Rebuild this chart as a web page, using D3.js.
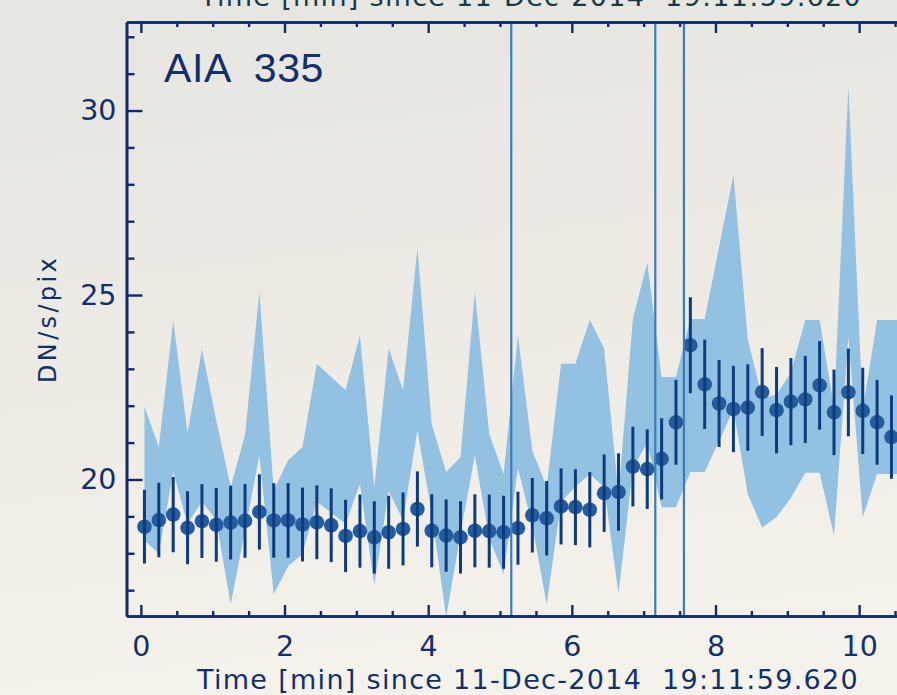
<!DOCTYPE html>
<html><head><meta charset="utf-8">
<script src="https://cdn.jsdelivr.net/npm/d3@7/dist/d3.min.js"></script>
<style>html,body{margin:0;padding:0;overflow:hidden;background:#eeebe5}</style>
</head><body>
<svg id="c" width="897" height="695"></svg>
<script>
// ---- data ----
const times = [0.05,0.25,0.45,0.65,0.85,1.05,1.25,1.45,1.65,1.85,
  2.05,2.25,2.45,2.65,2.85,3.05,3.25,3.45,3.65,3.85,
  4.05,4.25,4.45,4.65,4.85,5.05,5.25,5.45,5.65,5.85,
  6.05,6.25,6.45,6.65,6.85,7.05,7.25,7.45,7.65,7.85,
  8.05,8.25,8.45,8.65,8.85,9.05,9.25,9.45,9.65,9.85,
  10.05,10.25,10.45,10.65];
const means = [18.72,18.90,19.05,18.69,18.87,18.77,18.83,18.88,19.12,18.89,
  18.89,18.78,18.84,18.76,18.47,18.60,18.43,18.57,18.66,19.20,
  18.61,18.48,18.43,18.61,18.60,18.57,18.68,19.03,18.95,19.27,
  19.25,19.18,19.63,19.66,20.35,20.28,20.56,21.55,23.64,22.58,
  22.06,21.91,21.95,22.37,21.88,22.11,22.17,22.55,21.82,22.36,
  21.86,21.55,21.15,20.90];
const errors = [1.00,1.01,1.02,0.99,1.00,1.00,1.00,1.00,1.02,1.01,
  1.01,1.00,1.00,1.00,0.98,0.99,0.98,0.99,0.99,1.02,
  0.99,0.98,0.98,0.99,0.99,0.99,0.99,1.01,1.01,1.03,
  1.03,1.02,1.05,1.05,1.08,1.08,1.10,1.15,1.30,1.21,
  1.18,1.17,1.17,1.19,1.17,1.18,1.18,1.20,1.16,1.19,
  1.17,1.15,1.13,1.12];
const bandHigh = [21.98,20.88,24.32,21.26,23.52,21.60,19.80,21.20,25.09,19.70,
  20.52,20.88,23.14,22.78,22.42,23.91,19.79,23.55,22.42,26.27,
  21.50,20.20,20.60,25.09,21.24,20.15,23.91,20.78,19.80,23.14,
  23.14,24.32,23.55,19.61,24.35,25.89,22.78,22.78,24.35,24.35,
  26.30,28.26,23.80,22.20,22.30,22.90,24.32,24.32,21.96,30.66,
  21.90,24.32,24.32,24.32];
const bandLow = [18.34,18.00,20.20,18.80,19.40,18.90,16.61,18.61,20.65,16.89,
  17.65,17.98,19.40,19.10,18.80,19.88,17.15,19.68,18.90,21.33,
  19.07,16.26,18.53,20.65,18.40,17.44,20.30,18.75,16.62,19.40,
  19.80,20.15,19.79,16.90,20.30,21.00,19.25,19.25,20.20,20.20,
  21.04,21.90,19.60,18.70,18.98,19.50,20.18,20.18,18.48,23.87,
  18.98,20.15,20.15,20.15];
const markerTimes = [5.157, 7.162, 7.561];
const xMajorTicks = [0,2,4,6,8,10];
const xMinorTicks = [0.5,1,1.5,2.5,3,3.5,4.5,5,5.5,6.5,7,7.5,8.5,9,9.5,10.5];
const yMajorTicks = [20,25,30];
const yMinorTicks = [17,18,19,21,22,23,24,26,27,28,29,31,32];
const xTitle = "Time [min] since 11-Dec-2014  19:11:59.620";
const yTitle = "DN/s/pix";
const panelLabel = "AIA  335";

// ---- drawing ----
const W = 897, H = 695;
const FONT = "'DejaVu Sans', 'Liberation Sans', sans-serif";
const FONT_LABEL = "'Liberation Sans', Arial, sans-serif";
const AX = "#0e2c6b", TXT = "#10306c";
const svg = d3.select("#c");

const defs = svg.append("defs");
const grad = defs.append("linearGradient").attr("id","paper").attr("x1",0).attr("y1",0).attr("x2",0.15).attr("y2",1);
grad.append("stop").attr("offset","0%").attr("stop-color","#e7e5e0");
grad.append("stop").attr("offset","55%").attr("stop-color","#eeebe5");
grad.append("stop").attr("offset","100%").attr("stop-color","#f5f2eb");
svg.append("rect").attr("width",W).attr("height",H).attr("fill","url(#paper)");

const x = d3.scaleLinear().domain([-0.2, 10.8]).range([126.5, 916.6]);
const y = d3.scaleLinear().domain([16.3, 32.4]).range([616, 22]);

defs.append("clipPath").attr("id","plot").append("rect")
  .attr("x", x.range()[0]).attr("y", y.range()[1])
  .attr("width", x.range()[1]-x.range()[0]).attr("height", y.range()[0]-y.range()[1]);

const data = times.map((t,i)=>({t, m:means[i], e:errors[i], hi:bandHigh[i], lo:bandLow[i]}));
const plot = svg.append("g").attr("clip-path","url(#plot)");

plot.append("path").datum(data)
  .attr("d", d3.area().x(d=>x(d.t)).y0(d=>y(d.lo)).y1(d=>y(d.hi)))
  .attr("fill","#92c1e1");

plot.selectAll("circle.pt").data(data).join("circle").attr("class","pt")
  .attr("cx", d=>x(d.t)).attr("cy", d=>y(d.m)).attr("r", 7.3)
  .attr("fill","#245b9b");
plot.selectAll("line.err").data(data).join("line").attr("class","err")
  .attr("x1", d=>x(d.t)).attr("x2", d=>x(d.t))
  .attr("y1", d=>y(d.m - d.e)).attr("y2", d=>y(d.m + d.e))
  .attr("stroke","#0d3b80").attr("stroke-width",3);

plot.selectAll("line.mark").data(markerTimes).join("line").attr("class","mark")
  .attr("x1", d=>x(d)).attr("x2", d=>x(d))
  .attr("y1", y.range()[0]).attr("y2", y.range()[1])
  .attr("stroke","#3b7bb8").attr("stroke-width",2.2);

function styleAxis(g){
  g.select(".domain").attr("stroke",AX).attr("stroke-width",2.6);
  g.selectAll(".tick line").attr("stroke",AX).attr("stroke-width",2.4);
  g.selectAll(".tick text").attr("fill",TXT).attr("font-family",FONT).attr("font-size",28.5);
  g.attr("font-family",FONT);
}
// bottom axis
const gb = svg.append("g").attr("transform",`translate(0,${y.range()[0]})`)
  .call(d3.axisBottom(x).tickValues(xMajorTicks).tickSizeInner(-11).tickSizeOuter(0).tickPadding(20).tickFormat(d3.format("d")));
styleAxis(gb);
const gbm = svg.append("g").attr("transform",`translate(0,${y.range()[0]})`)
  .call(d3.axisBottom(x).tickValues(xMinorTicks).tickSizeInner(-5).tickSizeOuter(0).tickFormat(""));
styleAxis(gbm);
// top axis
const gt = svg.append("g").attr("transform",`translate(0,${y.range()[1]})`)
  .call(d3.axisTop(x).tickValues(xMajorTicks).tickSizeInner(-11).tickSizeOuter(0).tickFormat(""));
styleAxis(gt);
const gtm = svg.append("g").attr("transform",`translate(0,${y.range()[1]})`)
  .call(d3.axisTop(x).tickValues(xMinorTicks).tickSizeInner(-5).tickSizeOuter(0).tickFormat(""));
styleAxis(gtm);
// left axis
const gl = svg.append("g").attr("transform",`translate(${x.range()[0]},0)`)
  .call(d3.axisLeft(y).tickValues(yMajorTicks).tickSizeInner(-16).tickSizeOuter(0).tickPadding(10).tickFormat(d3.format("d")));
styleAxis(gl);
const glm = svg.append("g").attr("transform",`translate(${x.range()[0]},0)`)
  .call(d3.axisLeft(y).tickValues(yMinorTicks).tickSizeInner(-8).tickSizeOuter(0).tickFormat(""));
styleAxis(glm);

// widen text to a measured width by letter spacing (keeps glyph height)
function spreadText(sel, target){
  const len = sel.node().getComputedTextLength();
  const n = sel.text().length;
  if (len > 0 && n > 1) sel.attr("letter-spacing", ((target-len)/n).toFixed(3));
}
// bottom title
const bt = svg.append("text").attr("x",528).attr("y",688.5).attr("text-anchor","middle")
  .attr("font-family",FONT).attr("font-size",27).attr("fill",TXT)
  .style("white-space","pre").text(xTitle);
spreadText(bt, 662);
// top title (cut by page edge, as in the reference)
const tt = svg.append("text").attr("x",531).attr("y",6).attr("text-anchor","middle")
  .attr("font-family",FONT).attr("font-size",27).attr("fill","#143a4c")
  .style("white-space","pre").text(xTitle);
spreadText(tt, 662);
// y title
const yt = svg.append("text").attr("transform","translate(56,319) rotate(-90)").attr("text-anchor","middle")
  .attr("font-family",FONT).attr("font-size",24).attr("fill",TXT).text(yTitle);
spreadText(yt, 128);
// panel label
const pl = svg.append("text").attr("x",164).attr("y",82).attr("font-family",FONT_LABEL)
  .attr("font-size",41).attr("fill",TXT).style("white-space","pre").text(panelLabel);
spreadText(pl, 160);
</script>
</body></html>
